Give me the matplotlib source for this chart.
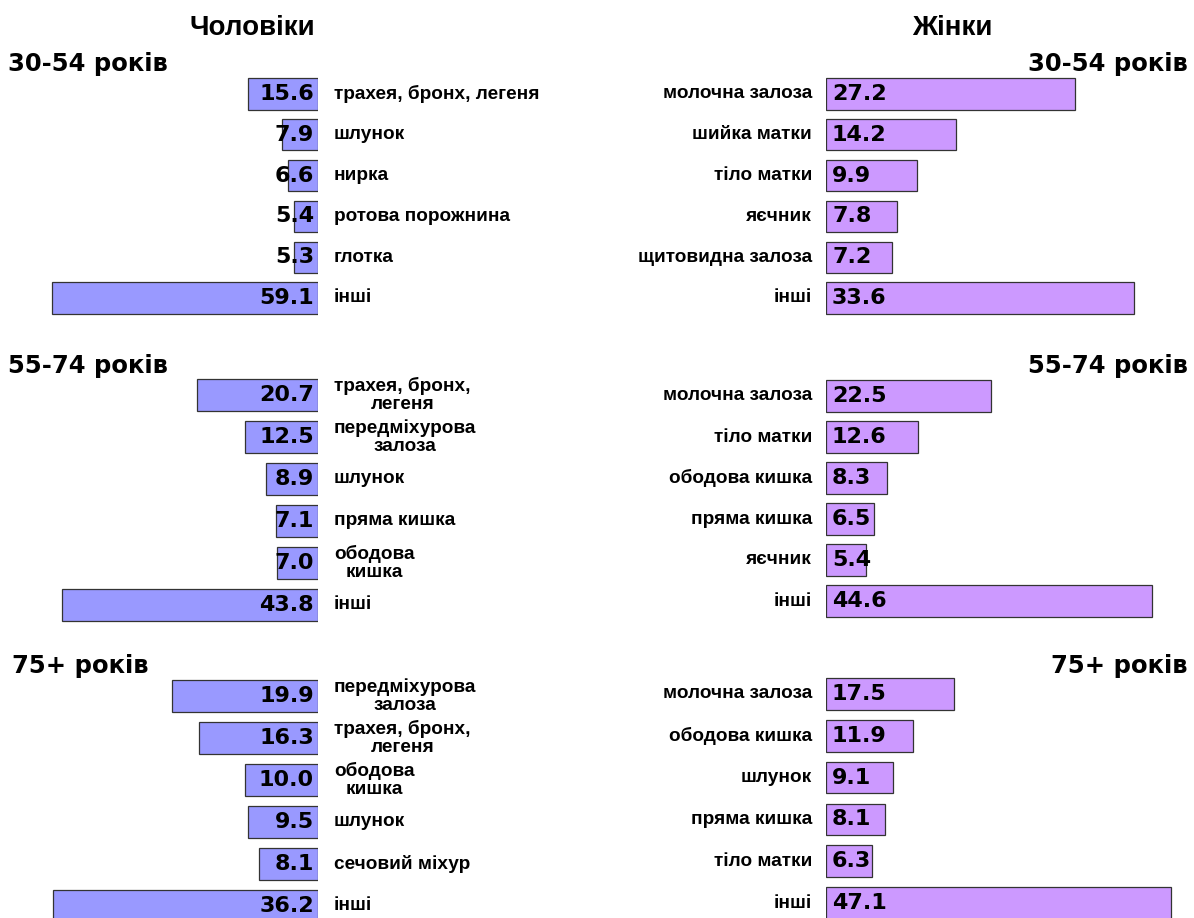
import matplotlib.pyplot as plt

# data
age_groups = ["30-54 років", "55-74 років", "75+ років"]

men_labels = [
    ["трахея, бронх, легеня", "шлунок", "нирка", "ротова порожнина", "глотка", "інші"],
    ["трахея, бронх,\nлегеня", "передміхурова\nзалоза", "шлунок", "пряма кишка", "ободова\nкишка", "інші"],
    ["передміхурова\nзалоза", "трахея, бронх,\nлегеня", "ободова\nкишка", "шлунок", "сечовий міхур", "інші"],
]
men_values = [
    [15.6, 7.9, 6.6, 5.4, 5.3, 59.1],
    [20.7, 12.5, 8.9, 7.1, 7.0, 43.8],
    [19.9, 16.3, 10.0, 9.5, 8.1, 36.2],
]

women_labels = [
    ["молочна залоза", "шийка матки", "тіло матки", "яєчник", "щитовидна залоза", "інші"],
    ["молочна залоза", "тіло матки", "ободова кишка", "пряма кишка", "яєчник", "інші"],
    ["молочна залоза", "ободова кишка", "шлунок", "пряма кишка", "тіло матки", "інші"],
]
women_values = [
    [27.2, 14.2, 9.9, 7.8, 7.2, 33.6],
    [22.5, 12.6, 8.3, 6.5, 5.4, 44.6],
    [17.5, 11.9, 9.1, 8.1, 6.3, 47.1],
]

# layout (pixels of a 1194x918 canvas)
W, H = 1194, 918
MEN_COLOR = "#9999FF"
WOMEN_COLOR = "#CC99FF"
EDGE = "#333333"

men_xmax = [70.7, 54.4, 43.4]       # axis range per age group
women_xmax = [40.2, 50.3, 50.3]
men_rows = [(94, 40.8), (395, 42.0), (696, 42.0)]     # first row centre, spacing
women_rows = [(94, 40.8), (396, 41.0), (694, 41.8)]
age_y = [64, 366, 666]
age_x_left = [8, 8, 12]

VAL_FONT = dict(family="DejaVu Sans", weight="bold", fontsize=16)
LAB_FONT = dict(family="Liberation Sans", weight="bold", fontsize=13.7)
AGE_FONT = dict(family="DejaVu Sans", weight="bold", fontsize=17.5)

fig = plt.figure(figsize=(W / 100, H / 100), dpi=100)
fig.patch.set_facecolor("white")


def make_ax(x0, x1, row0, sp):
    top = row0 - 0.5 * sp
    bot = row0 + 5.5 * sp
    ax = fig.add_axes([x0 / W, 1 - bot / H, (x1 - x0) / W, (bot - top) / H])
    ax.set_ylim(5.5, -0.5)
    ax.axis("off")
    return ax


for g in range(3):
    # men, bars grow to the left
    ax = make_ax(0, 318, *men_rows[g])
    ax.set_xlim(men_xmax[g], 0)
    ys = range(len(men_values[g]))
    ax.barh(ys, men_values[g], height=0.76, color=MEN_COLOR, edgecolor=EDGE, linewidth=0.9)
    for y, v, lab in zip(ys, men_values[g], men_labels[g]):
        ax.annotate(f"{v:.1f}", (0, y), xytext=(-4, 0), textcoords="offset pixels",
                    ha="right", va="center", annotation_clip=False, **VAL_FONT)
        ax.annotate(lab, (0, y), xytext=(16, 0), textcoords="offset pixels",
                    ha="left", va="center", multialignment="center", linespacing=1.12,
                    annotation_clip=False, **LAB_FONT)

    # women, bars grow to the right
    ax = make_ax(826, W, *women_rows[g])
    ax.set_xlim(0, women_xmax[g])
    ys = range(len(women_values[g]))
    ax.barh(ys, women_values[g], height=0.76, color=WOMEN_COLOR, edgecolor=EDGE, linewidth=0.9)
    for y, v, lab in zip(ys, women_values[g], women_labels[g]):
        ax.annotate(f"{v:.1f}", (0, y), xytext=(6, 0), textcoords="offset pixels",
                    ha="left", va="center", annotation_clip=False, **VAL_FONT)
        ax.annotate(lab, (0, y), xytext=(-14, 0), textcoords="offset pixels",
                    ha="right", va="center", multialignment="center", linespacing=1.12,
                    annotation_clip=False, **LAB_FONT)

    fig.text(age_x_left[g] / W, 1 - age_y[g] / H, age_groups[g], ha="left", va="center", **AGE_FONT)
    fig.text(1188 / W, 1 - age_y[g] / H, age_groups[g], ha="right", va="center", **AGE_FONT)

fig.text(252 / W, 1 - 28 / H, "Чоловіки", ha="center", va="center",
         family="Liberation Sans", weight="bold", fontsize=20)
fig.text(952 / W, 1 - 28 / H, "Жінки", ha="center", va="center",
         family="Liberation Sans", weight="bold", fontsize=20)

fig.savefig("out.png", dpi=100, facecolor="white")
